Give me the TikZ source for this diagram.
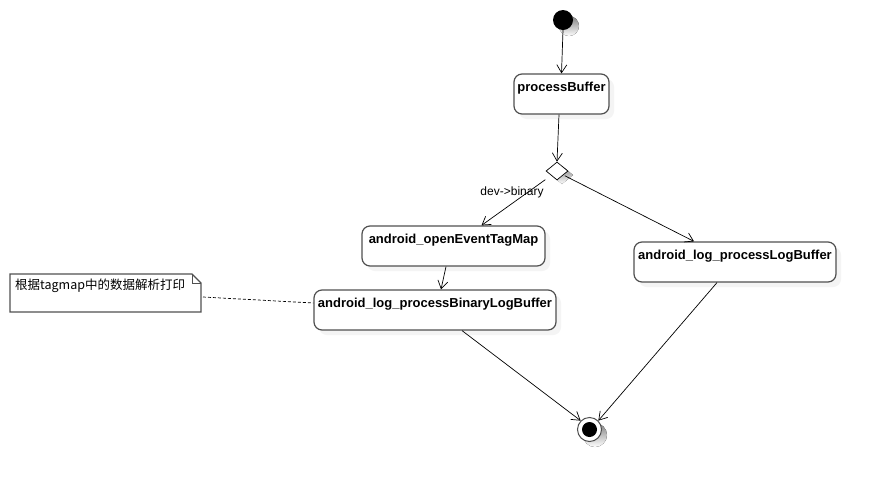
\documentclass[tikz,border=0pt]{standalone}
\usepackage{fontspec}
\setmainfont{Liberation Sans}
\newfontfamily\cjk{Noto Sans CJK SC}
\usetikzlibrary{arrows.meta,shapes.geometric,calc}
\definecolor{edge}{HTML}{505050}
\definecolor{shade}{HTML}{F4F4F4}
\tikzset{
  activity/.style={draw=edge, line width=1.2pt, rounded corners=8pt, fill=white,
    minimum height=40pt, inner ysep=5pt, inner xsep=0pt, text height=12pt, text depth=18pt,
    font=\fontsize{13}{15}\selectfont\bfseries, align=center},
  shadowbox/.style={fill=shade, rounded corners=8pt, draw=none},
  flow/.style={draw=black, line width=0.7pt, -{Straight Barb[length=8pt,width=10pt,line width=0.7pt]}},
  lbl/.style={font=\fontsize{12}{14}\selectfont, inner sep=0pt},
}
\begin{document}
\begin{tikzpicture}[x=1pt,y=-1pt]
\useasboundingbox (0,0) rectangle (876,483);
\fill[white] (0,0) rectangle (876,483);
% shadows
\fill[shade] (569,26) circle (10);
\fill[shade] (595,435) circle (12);
\fill[shadowbox] (519,79) rectangle (614,119);
\fill[shadowbox] (367,231) rectangle (550,271);
\fill[shadowbox] (639,247) rectangle (841,287);
\fill[shadowbox] (319,295) rectangle (561,335);
\fill[shade] (562,166) -- (573,175) -- (562,184) -- (551,175) -- cycle;
% start
\node[circle, fill=black, minimum size=20pt, inner sep=0pt] (start) at (563,20) {};
% activities
\node[activity, minimum width=95pt] (pb) at (561.5,94) {processBuffer};
\node[diamond, draw=black, line width=0.7pt, fill=white, minimum width=22pt, minimum height=18pt, inner sep=0pt] (dec) at (557,171) {};
\node[activity, minimum width=183pt] (oetm) at (453.5,246) {android\_openEventTagMap};
\node[activity, minimum width=202pt] (plb) at (735,262) {android\_log\_processLogBuffer};
\node[activity, minimum width=242pt] (pblb) at (435,310) {android\_log\_processBinaryLogBuffer};
% end
\node[circle, draw=edge, line width=1pt, fill=white, minimum size=24pt, inner sep=0pt] (fin) at (589.5,429.5) {};
\node[circle, fill=black, minimum size=15pt, inner sep=0pt] (finin) at (fin.center) {};
% note
\draw[edge, line width=1.2pt, fill=white] (10,274) -- (192,274) -- (201,283) -- (201,312) -- (10,312) -- cycle;
\draw[edge, line width=1pt] (192,274) -- (192,283) -- (201,283);
\node[anchor=west, inner sep=0pt, font=\fontsize{12.5}{15}\selectfont] (note) at (15,286) {\cjk 根据tagmap中的数据解析打印};
\coordinate (noteR) at (203,297);
% connectors
\draw[flow] (start.south) -- (pb.north);
\draw[flow] ($(pb.south)+(-2.5,0)$) -- (dec.north);
\draw[flow] ($(dec.west)!0.5!(dec.south)+(-6,4)$) -- ($(oetm.north)+(28,0)$);
\node[lbl] (dl) at (512,192) {dev->binary};
\draw[flow] ($(dec.east)!0.4!(dec.south)+(1,1)$) -- ($(plb.north)+(-41,0)$);
\draw[flow] ($(oetm.south)+(-7.5,0)$) -- ($(pblb.north)+(6,0)$);
\draw[flow] ($(pblb.south)+(27,0)$) -- (fin.135);
\draw[flow] ($(plb.south)+(-18,0)$) -- (fin.45);
\draw[black, line width=0.7pt, dashed, dash pattern=on 3pt off 2pt] (noteR) -- ($(pblb.west)+(0,-7)$);
\end{tikzpicture}
\end{document}
